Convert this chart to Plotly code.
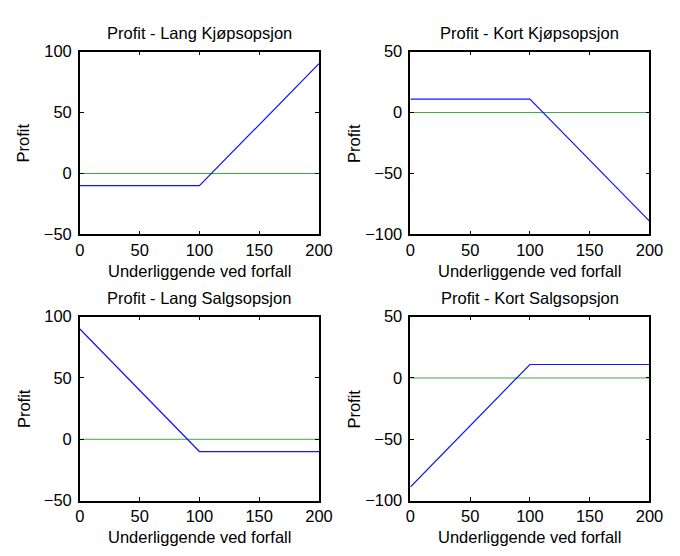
import plotly.graph_objects as go

# ---- data ----
titles = ["Profit - Lang Kjøpsopsjon", "Profit - Kort Kjøpsopsjon",
          "Profit - Lang Salgsopsjon", "Profit - Kort Salgsopsjon"]
x_pts = [0, 100, 200]
long_call = [-10, -10, 90]
short_call = [11, 11, -89]
long_put = [90, -10, -10]
short_put = [-89, 11, 11]
zero_x = [0, 200]
zero_y = [0, 0]
x_ticks = [0, 50, 100, 150, 200]
y_ticks_a = [-50, 0, 50, 100]
y_ticks_b = [-100, -50, 0, 50]
y_range_a = [-50, 100]
y_range_b = [-100, 50]
x_label = "Underliggende ved forfall"
y_label = "Profit"

W, H = 680, 556
FONT = "Liberation Sans, Arial, sans-serif"
FS = 16.5

series = [long_call, short_call, long_put, short_put]
yranges = [y_range_a, y_range_b, y_range_a, y_range_b]
yticks = [y_ticks_a, y_ticks_b, y_ticks_a, y_ticks_b]

# plot-area pixel boxes (left, right, top, bottom)
boxes = [(77, 323, 44, 233), (417, 663, 44, 233),
         (77, 323, 318, 508), (417, 663, 318, 508)]

fig = go.Figure()
for i in range(4):
    ax = "" if i == 0 else str(i + 1)
    fig.add_trace(go.Scatter(x=zero_x, y=zero_y, mode="lines",
                             line=dict(color="rgb(60,170,60)", width=1),
                             xaxis="x" + ax, yaxis="y" + ax, showlegend=False))
    fig.add_trace(go.Scatter(x=x_pts, y=series[i], mode="lines",
                             line=dict(color="rgb(20,20,255)", width=1.2),
                             xaxis="x" + ax, yaxis="y" + ax, showlegend=False))
    l, r, t, b = boxes[i]
    common = dict(showgrid=False, zeroline=False, showline=True, linecolor="black",
                  linewidth=1.5, mirror="allticks", ticks="inside", ticklen=4,
                  tickcolor="black", tickfont=dict(family=FONT, size=FS, color="black"))
    fig.layout["xaxis" + ax] = dict(domain=[l / W, r / W], range=[0, 200],
                                    tickvals=x_ticks, anchor="y" + ax,
                                    ticklabelstandoff=0, **common)
    fig.layout["yaxis" + ax] = dict(domain=[1 - b / H, 1 - t / H], range=yranges[i],
                                    tickvals=yticks[i], anchor="x" + ax,
                                    ticklabelstandoff=3, **common)
    cx = (l + r) / 2
    cy = (t + b) / 2
    fig.add_annotation(x=cx / W, y=1 - (t - 19) / H, xref="paper", yref="paper",
                       text=titles[i], showarrow=False, xanchor="center", yanchor="middle",
                       font=dict(family=FONT, size=FS, color="black"))
    fig.add_annotation(x=cx / W, y=1 - (b + 38) / H, xref="paper", yref="paper",
                       text=x_label, showarrow=False, xanchor="center", yanchor="middle",
                       font=dict(family=FONT, size=FS, color="black"))
    fig.add_annotation(x=(l - 58) / W, y=1 - cy / H, xref="paper", yref="paper",
                       text=y_label, showarrow=False, xanchor="center", yanchor="middle",
                       textangle=-90, font=dict(family=FONT, size=FS, color="black"))

fig.update_layout(width=W, height=H, margin=dict(l=0, r=0, t=0, b=0),
                  paper_bgcolor="white", plot_bgcolor="white")
fig.write_html("out.html")
